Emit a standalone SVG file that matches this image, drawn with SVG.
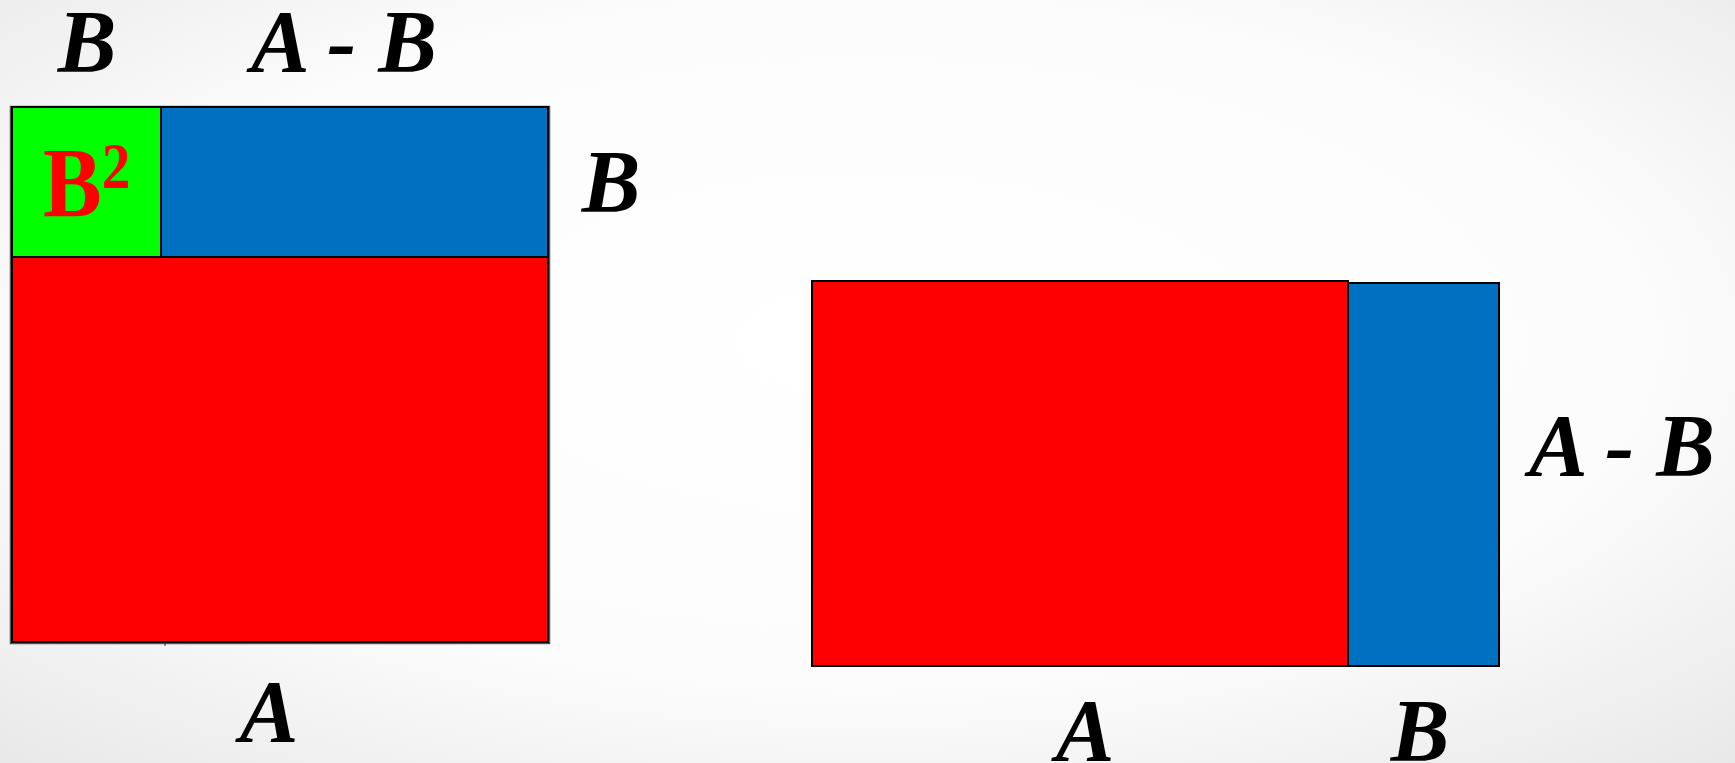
<svg xmlns="http://www.w3.org/2000/svg" width="1735" height="763" viewBox="0 0 1735 763">
<defs>
<radialGradient id="bg" cx="50%" cy="45%" r="75%">
<stop offset="0" stop-color="#ffffff"/>
<stop offset="0.6" stop-color="#fcfcfc"/>
<stop offset="1" stop-color="#e8e8e8"/>
</radialGradient>
<style>
.lbl{font-family:"Liberation Serif","Times New Roman",serif;font-weight:bold;font-style:italic;font-size:88px;fill:#000;text-anchor:middle}
.sq{stroke:#000;stroke-width:2}
.red{fill:#ff0000}
.blue{fill:#0070c0}
.green{fill:#00ff00}
</style>
</defs>
<rect x="0" y="0" width="1735" height="763" fill="url(#bg)"/>
<g id="left-square">
<rect x="10.5" y="106.5" width="539" height="537" fill="none" stroke="#555" stroke-width="1.5"/>
<rect id="b-squared" class="sq green" x="12" y="107" width="149" height="150"/>
<rect id="top-blue" class="sq blue" x="161" y="107" width="387" height="150"/>
<rect id="big-red" class="sq red" x="12" y="257" width="536" height="385"/>
<line x1="165" y1="643" x2="165" y2="646" stroke="#333" stroke-width="1"/>
<text transform="translate(43,216) scale(0.88,1)" font-family="Liberation Serif, Times New Roman, serif" font-weight="bold" font-size="100" fill="#ff0000">B<tspan font-size="65" dy="-28">2</tspan></text>
</g>
<g id="right-rect">
<rect class="sq red" x="812" y="281" width="536" height="385" stroke-width="1.5"/>
<rect class="sq blue" x="1348" y="283" width="151" height="383" stroke-width="1.5"/>
</g>
<g id="labels">
<text class="lbl" x="87" y="71">B</text>
<text class="lbl" x="344" y="71">A - B</text>
<text class="lbl" x="611" y="211">B</text>
<text class="lbl" x="269" y="741">A</text>
<text class="lbl" x="1622" y="475">A - B</text>
<text class="lbl" x="1085" y="760">A</text>
<text class="lbl" x="1420" y="760">B</text>
</g>
</svg>
